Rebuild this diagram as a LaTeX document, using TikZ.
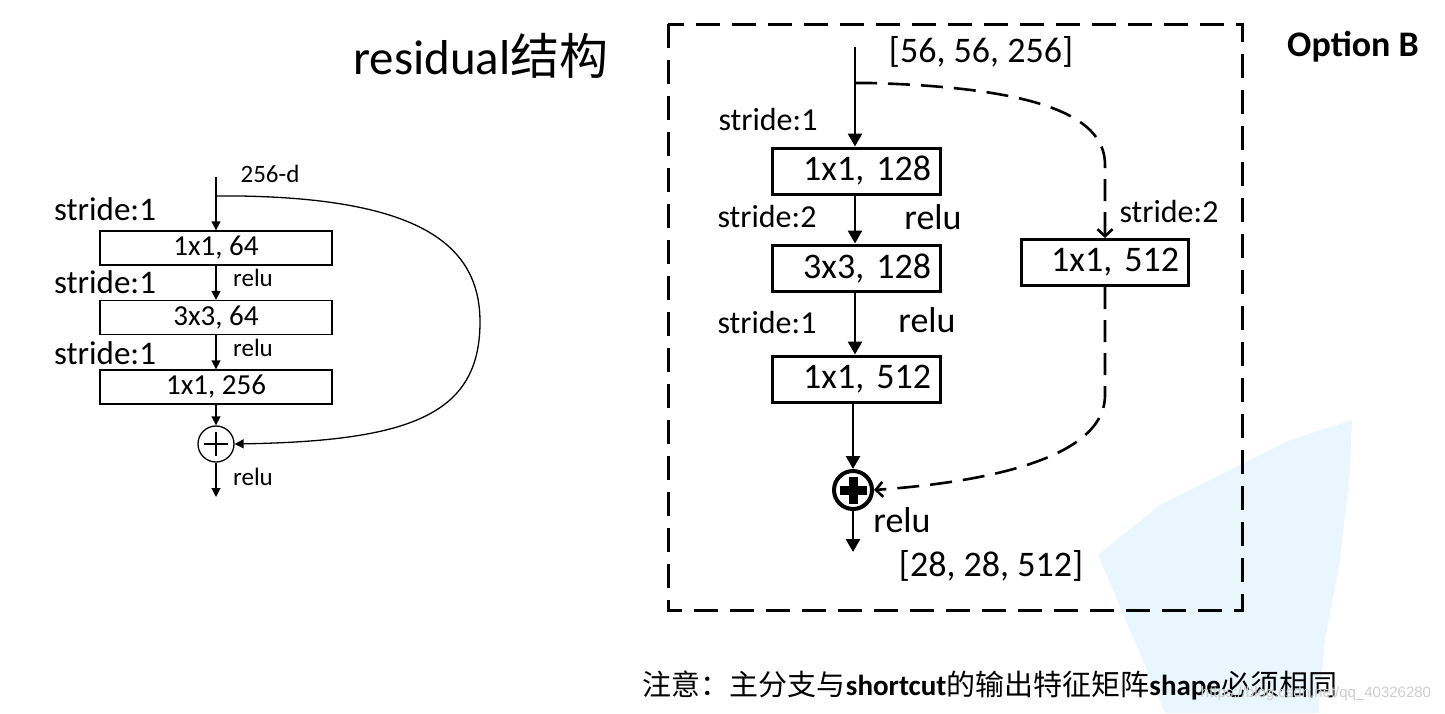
\documentclass[tikz,border=0pt]{standalone}
\usepackage{fontspec}
\setmainfont{Carlito}
\newfontfamily\cjk{Noto Sans CJK SC}
\newfontfamily\wmfont{Liberation Sans}
\usetikzlibrary{arrows.meta}
\definecolor{blobblue}{RGB}{233,246,253}
\definecolor{wmgray}{RGB}{205,205,205}
\tikzset{
  lbox/.style={draw, line width=1.3pt, minimum width=232pt, minimum height=34pt, inner sep=0pt, font=\fontsize{29}{30}\selectfont},
  larr/.style={line width=1.3pt, -{Triangle[length=9pt,width=9pt]}},
  lline/.style={line width=1.3pt},
  rbox/.style={draw, line width=3pt, minimum height=46pt, text width=150pt, inner xsep=9pt, align=right, inner ysep=0pt, font=\fontsize{36}{38}\selectfont},
  rarr/.style={line width=2.6pt, -{Triangle[length=13pt,width=14pt]}},
  rdash/.style={line width=2.6pt, dash pattern=on 22pt off 11pt},
  openarr/.style={-{Straight Barb[length=7pt,width=15pt,line width=2.6pt]}},
  frame/.style={line width=3pt, dash pattern=on 24pt off 12pt},
  lstride/.style={font=\fontsize{33}{34}\selectfont},
  lrelu/.style={font=\fontsize{25}{26}\selectfont},
  rstride/.style={font=\fontsize{32}{34}\selectfont},
  rrelu/.style={font=\fontsize{36}{38}\selectfont},
}
\begin{document}
\begin{tikzpicture}[x=1pt,y=-1pt]
\useasboundingbox (0,0) rectangle (1445,713);
% faint background blob
\fill[blobblue] (1098,555) -- (1160,505) -- (1230,470) -- (1290,440) -- (1352,420)
  -- (1350,470) -- (1340,560) -- (1325,640) -- (1318,713) -- (1165,713) -- (1130,630) -- cycle;

% title
\node (title) at (481,56) {\fontsize{49}{52}\selectfont residual{\cjk 结构}};

% ---------------- left diagram ----------------
\node[lbox] (a1) at (216,248) {1x1, 64};
\node[lbox] (a2) at (216,317.5) {3x3, 64};
\node[lbox] (a3) at (216,387) {1x1, 256};
\node[circle, draw, line width=1.3pt, minimum size=36pt, inner sep=0pt] (ap) at (216,444) {};
\draw[lline] ([xshift=-12pt]ap.center) -- ([xshift=12pt]ap.center);
\draw[lline] ([yshift=-12pt]ap.center) -- ([yshift=12pt]ap.center);
\coordinate (ain) at (216,177);
\coordinate (abr) at (216,196);
\coordinate (aout) at (216,497);
\draw[larr] (ain) -- (a1);
\draw[larr] (a1) -- (a2);
\draw[larr] (a2) -- (a3);
\draw[larr] (a3) -- (ap);
\draw[larr] (ap) -- (aout);
\draw[larr] (abr) -- (240,196) .. controls (420,199) and (480,245) .. (480,322)
  .. controls (480,415) and (410,441) .. (ap.east);
\node[font=\fontsize{25}{26}\selectfont] (ad) at (270,174) {256-d};
\node[lstride] (as1) at (105,209) {stride:1};
\node[lstride] (as2) at (105,282) {stride:1};
\node[lstride] (as3) at (105,353) {stride:1};
\node[lrelu] (ar1) at (253,278) {relu};
\node[lrelu] (ar2) at (253,348) {relu};
\node[lrelu] (ar3) at (253,477) {relu};

% ---------------- right diagram ----------------
\draw[frame] (668,24) rectangle (1242,610);
\node[rbox] (b1) at (856,171) {1x1, 128};
\node[rbox] (b2) at (856,268) {3x3, 128};
\node[rbox] (b3) at (856,379) {1x1, 512};
\node[rbox, text width=149pt] (br) at (1104.5,262.5) {1x1, 512};
\node[circle, draw, line width=4pt, minimum size=38pt, inner sep=0pt] (bp) at (853,490) {};
\draw[line width=9pt] ([xshift=-13.5pt]bp.center) -- ([xshift=13.5pt]bp.center);
\draw[line width=9pt] ([yshift=-13.5pt]bp.center) -- ([yshift=13.5pt]bp.center);
\coordinate (bin) at (855,47);
\coordinate (bbr) at (855,83);
\coordinate (bout) at (853,552);
\draw[rarr] (bin) -- (b1.north -| bin);
\draw[rarr] (b1.south -| bin) -- (b2.north -| bin);
\draw[rarr] (b2.south -| bin) -- (b3.north -| bin);
\draw[rarr] (b3.south -| bp) -- (bp);
\draw[rarr] (bp) -- (bout);
\draw[rdash, openarr] (bbr) -- (870,83) .. controls (1050,88) and (1105,120) .. (1105,165) -- (br.north -| 1105,0);
\draw[rdash, openarr] (br.south -| 1105,0) -- (1105,395) .. controls (1105,465) and (960,484) .. (bp.east);
\node[font=\fontsize{36}{38}\selectfont] (bi) at (981,52) {[56, 56, 256]};
\node[font=\fontsize{36}{38}\selectfont] (bo) at (991,566) {[28, 28, 512]};
\node[rstride] (bs1) at (768,120) {stride:1};
\node[rstride] (bs2) at (767,217) {stride:2};
\node[rstride] (bs3) at (767,323) {stride:1};
\node[rstride] (bs4) at (1169,212) {stride:2};
\node[rrelu] (br1) at (933,217) {relu};
\node[rrelu] (br2) at (927,320) {relu};
\node[rrelu] (br3) at (902,520) {relu};
\node[font=\fontsize{36}{38}\selectfont\bfseries] (opt) at (1353,47) {Option B};

% bottom note
\node (note) at (990,685) {\fontsize{29}{30}\selectfont{\cjk 注意：主分支与}\textbf{shortcut}{\cjk 的输出特征矩阵}\textbf{shape}{\cjk 必须相同}};
\node[text=wmgray, font=\wmfont\fontsize{15}{16}\selectfont] (wm) at (1316,694) {https://blog.csdn.net/qq\_40326280};
\end{tikzpicture}
\end{document}
